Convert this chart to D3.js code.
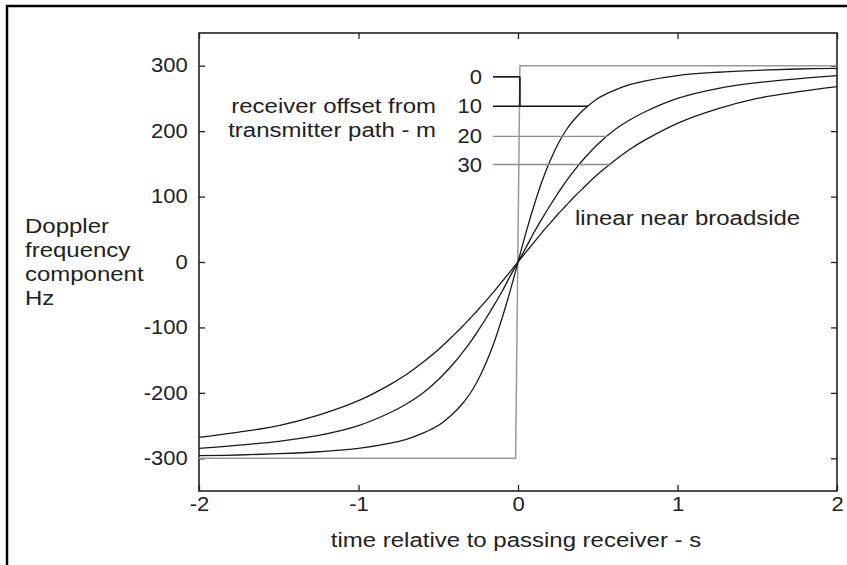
<!DOCTYPE html>
<html>
<head>
<meta charset="utf-8">
<script src="https://cdn.jsdelivr.net/npm/d3@7"></script>
<style>
body { margin: 0; background: #fff; }
svg { display: block; }
text { font-family: "Liberation Sans", Arial, sans-serif; font-size: 19.5px; fill: #222; }
</style>
</head>
<body>
<svg id="chart"></svg>
<script>
const times = [-2, -1.75, -1.5, -1.25, -1, -0.8, -0.7, -0.6, -0.5, -0.4, -0.35, -0.3, -0.25, -0.2, -0.15, -0.1, -0.05, 0,
    0.05, 0.1, 0.15, 0.2, 0.25, 0.3, 0.35, 0.4, 0.5, 0.6, 0.7, 0.8, 1, 1.25, 1.5, 1.75, 2];
const freq10 = [-296, -295, -293, -290, -285, -277, -271, -262, -250, -230, -217, -201, -180, -154, -123, -86, -45, 0,
    45, 86, 123, 154, 180, 201, 217, 230, 250, 262, 271, 277, 285, 290, 293, 295, 296];
const freq20 = [-285, -280, -274, -265, -250, -230, -217, -201, -180, -154, -139, -123, -105, -86, -66, -45, -22, 0,
    22, 45, 66, 86, 105, 123, 139, 154, 180, 201, 217, 230, 250, 265, 274, 280, 285];
const freq30 = [-268, -260, -250, -234, -212, -187, -172, -154, -134, -111, -99, -86, -73, -59, -45, -30, -15, 0,
    15, 30, 45, 59, 73, 86, 99, 111, 134, 154, 172, 187, 212, 234, 250, 260, 268];
// zero offset: a plain step
const stepTimes = [-2, -0.015, 0.012, 2];
const stepFreq = [-300, -300, 300, 300];

const offsetLabels = ['0', '10', '20', '30'];
const xTicks = [-2, -1, 0, 1, 2];
const yTicks = [-300, -200, -100, 0, 100, 200, 300];

const width = 847;
const height = 565;
const plot = {left: 199, top: 33, right: 837, bottom: 491};
const textScale = 1.23;   // source text is wide
const digitScale = 1.13;

const x = d3.scaleLinear().domain([-2, 2]).range([plot.left, plot.right]);
const y = d3.scaleLinear().domain([-350, 350]).range([plot.bottom, plot.top]);

const svg = d3.select('#chart')
    .attr('width', width)
    .attr('height', height);

// outer frame (only top and left show)
svg.append('path')
    .attr('d', `M7,${height}V6H${width}`)
    .attr('fill', 'none')
    .attr('stroke', '#000')
    .attr('stroke-width', 2.5);

const label = (str, px, py, anchor, sx) => svg.append('text')
    .attr('transform', `translate(${px},${py}) scale(${sx},1)`)
    .attr('text-anchor', anchor)
    .text(str);

// axes, ticks pointing in
const styleAxis = g => {
    g.select('.domain').remove();
    g.selectAll('line').attr('stroke', '#222').attr('stroke-width', 1.3);
    g.selectAll('text').attr('font-size', null).attr('font-family', null).attr('fill', '#222');
};
const plain = d => String(d);   // hyphen, not a typographic minus

svg.append('g')
    .attr('transform', `translate(${plot.left},0)`)
    .call(d3.axisLeft(y).tickValues(yTicks).tickSize(-6).tickPadding(10).tickFormat(plain))
    .call(styleAxis)
    .call(g => g.selectAll('text').attr('transform', `scale(${digitScale},1)`));

svg.append('g')
    .attr('transform', `translate(0,${plot.bottom})`)
    .call(d3.axisBottom(x).tickValues(xTicks).tickSize(-6).tickPadding(6).tickFormat(plain))
    .call(styleAxis)
    .call(g => g.selectAll('text').attr('transform', `scale(${digitScale},1)`));

svg.append('g')
    .attr('transform', `translate(${plot.right},0)`)
    .call(d3.axisRight(y).tickValues(yTicks).tickSize(-6).tickFormat(''))
    .call(styleAxis);

svg.append('g')
    .attr('transform', `translate(0,${plot.top})`)
    .call(d3.axisTop(x).tickValues(xTicks).tickSize(-6).tickFormat(''))
    .call(styleAxis);

svg.append('rect')
    .attr('x', plot.left)
    .attr('y', plot.top)
    .attr('width', plot.right - plot.left)
    .attr('height', plot.bottom - plot.top)
    .attr('fill', 'none')
    .attr('stroke', '#222')
    .attr('stroke-width', 1.6);

// curves
const line = d3.line()
    .x(d => x(d[0]))
    .y(d => y(d[1]));

const series = [
    {ts: stepTimes, vs: stepFreq, color: '#999', keyColor: '#111', w: 1.5, curve: d3.curveLinear},
    {ts: times, vs: freq10, color: '#1a1a1a', keyColor: '#111', w: 1.3},
    {ts: times, vs: freq20, color: '#1a1a1a', keyColor: '#8a8a8a', w: 1.3},
    {ts: times, vs: freq30, color: '#1a1a1a', keyColor: '#8a8a8a', w: 1.3}
];

series.forEach(s => {
    svg.append('path')
        .datum(d3.zip(s.ts, s.vs))
        .attr('d', line.curve(s.curve || d3.curveCatmullRom.alpha(0.5)))
        .attr('fill', 'none')
        .attr('stroke', s.color)
        .attr('stroke-width', s.w);
});

// where a series first reaches a given frequency
const crossing = (ts, vs, level) => {
    for (let i = 0; i < vs.length - 1; i++) {
        if (vs[i] <= level && vs[i + 1] >= level) {
            return ts[i] + (ts[i + 1] - ts[i]) * (level - vs[i]) / (vs[i + 1] - vs[i]);
        }
    }
    return ts[ts.length - 1];
};

// key: lines run from the labels to their own curve
const keyLevels = [283, 238, 192, 149];
const keyX0 = 493;
series.forEach((s, i) => {
    const yy = y(keyLevels[i]);
    const tEnd = i === 0 ? stepTimes[2] : crossing(s.ts, s.vs, keyLevels[i]);
    svg.append('line')
        .attr('x1', keyX0)
        .attr('x2', x(tEnd))
        .attr('y1', yy)
        .attr('y2', yy)
        .attr('stroke', s.keyColor)
        .attr('stroke-width', i < 2 ? 1.6 : 1.3);
    label(offsetLabels[i], 482, yy + 7, 'end', digitScale);
});
// dark bit of the step between the first two key lines
svg.append('line')
    .attr('x1', x(stepTimes[2]))
    .attr('x2', x(stepTimes[2]))
    .attr('y1', y(keyLevels[0]))
    .attr('y2', y(keyLevels[1]))
    .attr('stroke', '#111')
    .attr('stroke-width', 1.6);

label('receiver offset from', 436, 113, 'end', textScale);
label('transmitter path - m', 436, 137, 'end', textScale);
label('linear near broadside', 575, 225, 'start', textScale);

['Doppler', 'frequency', 'component', 'Hz'].forEach((t, i) => label(t, 25, 233 + 24 * i, 'start', textScale));

label('time relative to passing receiver - s', (plot.left + plot.right) / 2 - 2, 547, 'middle', textScale);
</script>
</body>
</html>
